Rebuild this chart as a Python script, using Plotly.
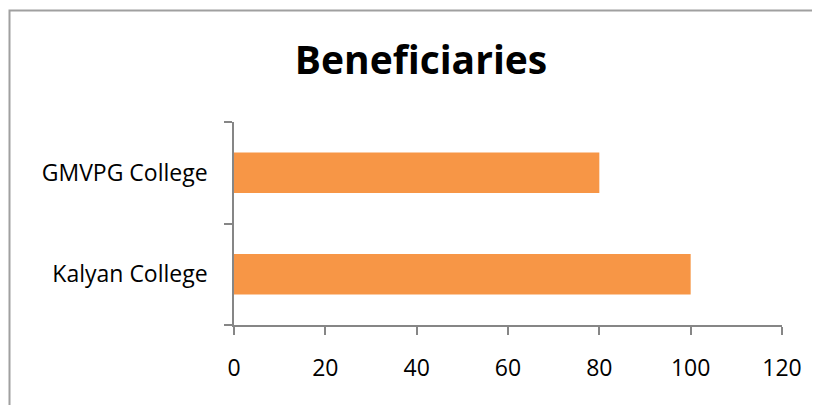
import plotly.graph_objects as go

categories = ["Kalyan College", "GMVPG College"]
values = [100, 80]
x_ticks = [0, 20, 40, 60, 80, 100, 120]

OFF = 8  # page body margin
W, H = 820 - OFF, 405 - OFF
# plot area in page pixel coordinates (from reference)
PX0, PX1, PY0, PY1 = 234, 782, 122, 325
L, T = PX0 - OFF, PY0 - OFF
R = W - (PX1 - OFF)
B = H - (PY1 - OFF)
pw, ph = PX1 - PX0, PY1 - PY0

def px(x):
    return (x - PX0) / pw

def py(y):
    return (PY1 - y) / ph

fig = go.Figure(go.Bar(
    y=categories, x=values, orientation="h",
    marker=dict(color="#F79646", line=dict(width=0)),
    width=0.4,
))

fnt = "Open Sans, Carlito, Calibri, sans-serif"
fig.update_layout(
    width=W, height=H,
    margin=dict(l=L, r=R, t=T, b=B),
    paper_bgcolor="white", plot_bgcolor="white",
    showlegend=False,
    title=dict(text="<b>Beneficiaries</b>", x=px(421), xref="paper",
               y=1 - (60 - OFF) / H, yref="container", xanchor="center", yanchor="middle",
               font=dict(family=fnt, size=39, color="black")),
    font=dict(family=fnt, size=23, color="black"),
)
fig.update_xaxes(
    range=[0, 120], tickvals=x_ticks, showgrid=False, zeroline=False,
    showline=True, linecolor="#868686", linewidth=1.5,
    ticks="outside", ticklen=8, tickcolor="#868686", tickwidth=1.5,
    ticklabelstandoff=14,
)
fig.update_yaxes(
    categoryorder="array", categoryarray=categories,
    showgrid=False, zeroline=False,
    showline=True, linecolor="#868686", linewidth=1.5,
    ticks="outside", ticklen=8, tickcolor="#868686", tickwidth=1.5,
    tickson="boundaries", ticklabelstandoff=20,
)

# outer chart border
fig.add_shape(type="rect", xref="paper", yref="paper",
              x0=px(9.5), x1=px(830), y0=py(420), y1=py(10.5),
              line=dict(color="#A0A0A0", width=2), layer="below")

fig.write_html("out.html")
